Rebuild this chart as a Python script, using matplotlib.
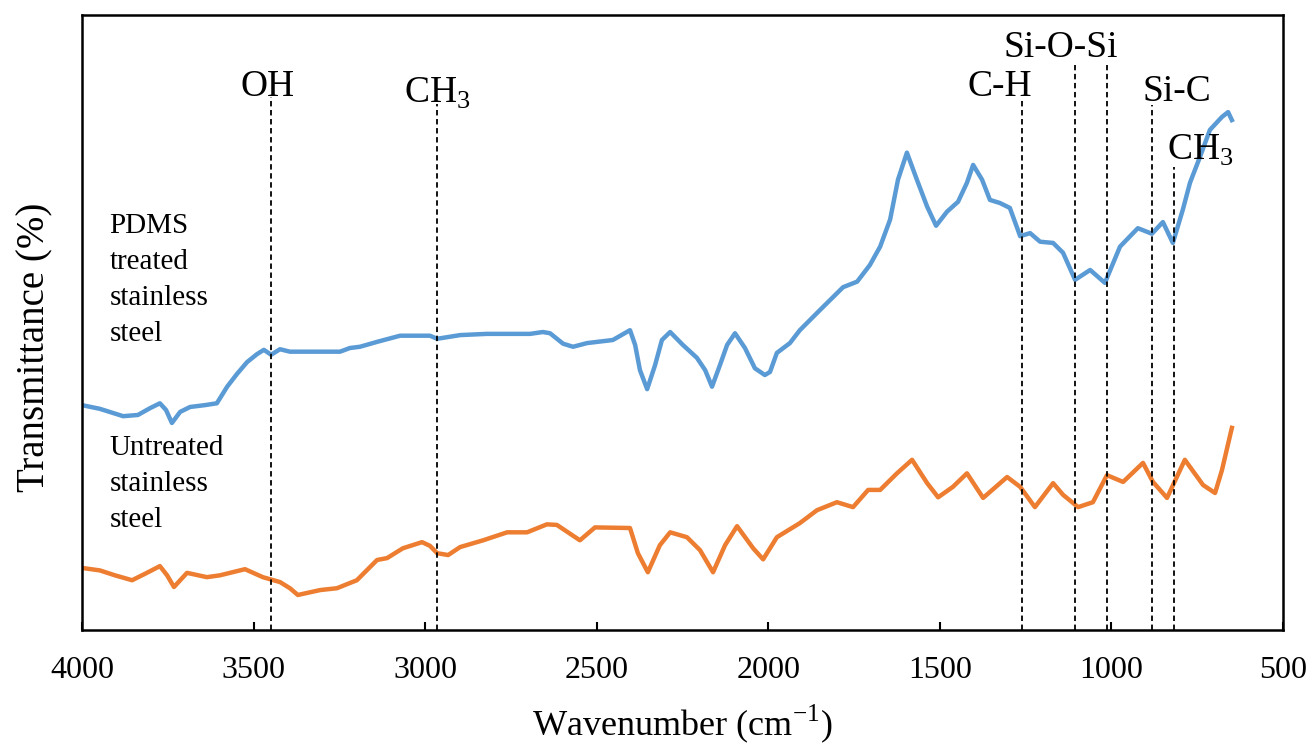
import numpy as np
import matplotlib
matplotlib.use("Agg")
import matplotlib.pyplot as plt

plt.rcParams['font.family'] = ['Liberation Serif', 'DejaVu Serif']
plt.rcParams['mathtext.fontset'] = 'custom'
plt.rcParams['mathtext.rm'] = 'Liberation Serif'

# PDMS treated stainless steel (arbitrary transmittance units)
blue_wn = [4000, 3948, 3880, 3837, 3802, 3773, 3755, 3738, 3714, 3685,
           3642, 3607, 3577, 3548, 3519, 3490, 3470, 3449, 3423, 3394,
           3248, 3219, 3190, 3140, 3073, 2986, 2965, 2898, 2820, 2694,
           2657, 2636, 2598, 2569, 2528, 2453, 2403, 2388, 2374, 2353,
           2330, 2310, 2286, 2249, 2208, 2184, 2164, 2141, 2120, 2097,
           2068, 2039, 2010, 1995, 1975, 1937, 1908, 1849, 1782, 1741,
           1704, 1674, 1645, 1622, 1596, 1567, 1537, 1511, 1479, 1447,
           1421, 1403, 1377, 1354, 1325, 1296, 1266, 1237, 1208, 1170,
           1141, 1106, 1062, 1019, 975, 923, 882, 850, 821, 792,
           771, 742, 713, 678, 660, 649]
blue_t = [36.3, 35.7, 34.5, 34.7, 35.8, 36.6, 35.5, 33.4, 35.2, 36.0,
          36.3, 36.6, 39.3, 41.4, 43.3, 44.6, 45.3, 44.5, 45.4, 45.0,
          45.0, 45.6, 45.8, 46.6, 47.6, 47.6, 47.1, 47.7, 47.9, 47.9,
          48.2, 48.0, 46.3, 45.8, 46.4, 46.9, 48.5, 46.1, 42.0, 38.9,
          42.8, 46.9, 48.2, 46.1, 44.0, 42.0, 39.3, 42.8, 46.1, 48.0,
          45.6, 42.3, 41.2, 41.7, 44.8, 46.4, 48.5, 51.8, 55.5, 56.4,
          59.1, 62.1, 66.5, 73.0, 77.4, 73.0, 68.6, 65.5, 67.8, 69.4,
          72.5, 75.4, 73.0, 69.7, 69.2, 68.4, 63.8, 64.3, 62.9, 62.7,
          61.1, 56.7, 58.3, 56.2, 62.1, 65.1, 64.2, 66.1, 62.7, 68.1,
          72.5, 76.7, 81.1, 83.2, 84.0, 82.7]

# untreated stainless steel
org_wn = [4000, 3948, 3904, 3854, 3811, 3773, 3752, 3732, 3694, 3636,
          3598, 3525, 3473, 3423, 3394, 3371, 3306, 3257, 3199, 3140,
          3111, 3065, 3009, 2986, 2965, 2933, 2898, 2831, 2761, 2703,
          2645, 2616, 2549, 2505, 2403, 2380, 2351, 2316, 2286, 2237,
          2199, 2161, 2126, 2091, 2044, 2015, 1975, 1908, 1858, 1800,
          1753, 1709, 1674, 1625, 1581, 1537, 1505, 1462, 1421, 1374,
          1304, 1266, 1223, 1170, 1141, 1097, 1054, 1013, 966, 908,
          879, 838, 786, 733, 698, 678, 649]
org_t = [9.8, 9.4, 8.6, 7.8, 9.0, 10.1, 8.6, 6.7, 9.0, 8.3,
         8.6, 9.6, 8.3, 7.5, 6.5, 5.4, 6.2, 6.5, 7.8, 11.1,
         11.4, 13.0, 14.0, 13.4, 12.2, 11.9, 13.2, 14.3, 15.6, 15.6,
         16.9, 16.8, 14.3, 16.4, 16.3, 12.2, 9.1, 13.5, 15.6, 14.8,
         12.7, 9.1, 13.5, 16.6, 13.0, 11.2, 14.8, 17.1, 19.2, 20.5,
         19.7, 22.5, 22.5, 25.2, 27.4, 23.6, 21.3, 23.0, 25.2, 21.2,
         24.6, 23.0, 19.7, 23.6, 21.7, 19.7, 20.5, 24.9, 23.8, 26.9,
         23.8, 21.2, 27.4, 23.3, 22.0, 25.7, 32.6]

# band assignments: dashed line position, line top, label text, label x, label baseline
band_wn = [3450, 2965, 1262, 1105, 1012, 883, 818]
band_top = [86.5, 85.3, 86.0, 91.7, 91.7, 85.2, 75.1]
label_txt = ['OH', r'CH$_\mathregular{3}$', 'C-H', 'Si-O-Si', 'Si-C', r'CH$_\mathregular{3}$']
label_wn = [3458, 2965, 1325, 1147, 809, 742]
label_y = [86.6, 85.5, 86.6, 93.0, 85.8, 76.2]

xticks = [4000, 3500, 3000, 2500, 2000, 1500, 1000, 500]

fig = plt.figure(figsize=(13.09, 7.47), dpi=100)
ax = fig.add_axes([82/1309, 1 - 630/747, 1201/1309, 615/747])

ax.plot(blue_wn, blue_t, color='#5B9BD5', lw=3.2, solid_joinstyle='round')
ax.plot(org_wn, org_t, color='#ED7D31', lw=3.2, solid_joinstyle='round')

for w, top in zip(band_wn, band_top):
    ax.plot([w, w], [-0.3, top], color='black', lw=1.3, ls=(0, (3, 2)))

for t, w, y in zip(label_txt, label_wn, label_y):
    ax.text(w, y, t, fontsize=27, ha='center', va='baseline')

ax.text(3920, 67.5, 'PDMS\ntreated\nstainless\nsteel', fontsize=21,
        ha='left', va='top', linespacing=1.5)
ax.text(3920, 31.5, 'Untreated\nstainless\nsteel', fontsize=21,
        ha='left', va='top', linespacing=1.5)

ax.set_xlim(4000, 500)
ax.set_ylim(-0.3, 99.8)
ax.set_xticks(xticks)
ax.set_yticks([])
ax.tick_params(axis='x', direction='in', length=6, width=1.5, labelsize=23, pad=19)
for s in ax.spines.values():
    s.set_linewidth(1.8)

ax.set_xlabel(r'Wavenumber (cm$^\mathregular{-1}$)', fontsize=26, labelpad=12)
ax.set_ylabel('Transmittance (%)', fontsize=28)
ax.yaxis.set_label_coords(-0.024, 0.46)

fig.savefig('out.png', dpi=100)
